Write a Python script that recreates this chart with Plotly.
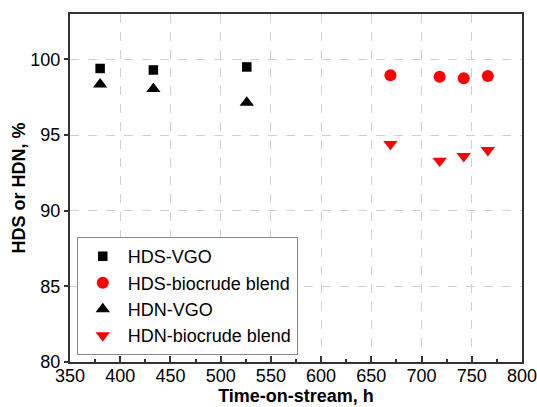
import plotly.graph_objects as go

hds_vgo_x = [380, 433, 526]
hds_vgo_y = [99.4, 99.3, 99.5]
hdn_vgo_x = [380, 433, 526]
hdn_vgo_y = [98.35, 98.05, 97.15]
hds_bio_x = [669, 718, 742, 766]
hds_bio_y = [98.95, 98.85, 98.75, 98.9]
hdn_bio_x = [669, 718, 742, 766]
hdn_bio_y = [94.4, 93.3, 93.6, 94.0]

x_ticks = [350, 400, 450, 500, 550, 600, 650, 700, 750, 800]
y_ticks = [80, 85, 90, 95, 100]

font = "Liberation Sans, Arial, sans-serif"

fig = go.Figure()
fig.add_trace(go.Scatter(x=hds_vgo_x, y=hds_vgo_y, mode="markers", name="HDS-VGO",
                         marker=dict(symbol="square", size=9.5, color="black")))
fig.add_trace(go.Scatter(x=hds_bio_x, y=hds_bio_y, mode="markers", name="HDS-biocrude blend",
                         marker=dict(symbol="circle", size=12, color="#ff0000")))
fig.add_trace(go.Scatter(x=hdn_vgo_x, y=hdn_vgo_y, mode="markers", name="HDN-VGO",
                         marker=dict(symbol="triangle-up", size=12.5, color="black")))
fig.add_trace(go.Scatter(x=hdn_bio_x, y=hdn_bio_y, mode="markers", name="HDN-biocrude blend",
                         marker=dict(symbol="triangle-down", size=12.5, color="#ff0000")))

fig.update_layout(
    width=537, height=407,
    margin=dict(l=70, r=15, t=14, b=45),
    paper_bgcolor="white", plot_bgcolor="white",
    font=dict(family=font, size=18, color="black"),
    showlegend=True,
    legend=dict(x=0.015, y=0.02, xanchor="left", yanchor="bottom",
                bordercolor="#888888", borderwidth=1, bgcolor="white",
                font=dict(size=18), itemsizing="trace", itemwidth=40),
    xaxis=dict(range=[350, 800], tickvals=x_ticks, ticktext=[str(v) for v in x_ticks],
               ticks="inside", ticklen=6, tickwidth=1.5, tickcolor="#333",
               minor=dict(ticks="inside", ticklen=3, tickwidth=1.5, dtick=25, tickcolor="#333", showgrid=False),
               showline=True, linecolor="#333", linewidth=2, mirror=True,
               showgrid=True, gridcolor="#d0d0d0", griddash="dash", gridwidth=1,
               zeroline=False, automargin=False, ticklabeloverflow="allow",
               ticklabelstandoff=-4,
               title=dict(text="<b>Time-on-stream, h</b>", font=dict(size=18), standoff=3),
               tickfont=dict(size=18)),
    yaxis=dict(range=[80, 103], tickvals=y_ticks, ticktext=[str(v) for v in y_ticks],
               ticks="outside", ticklen=4, tickwidth=1.5, tickcolor="#333",
               showline=True, linecolor="#333", linewidth=2, mirror=True,
               showgrid=True, gridcolor="#d0d0d0", griddash="dash", gridwidth=1,
               zeroline=False, automargin=False,
               title=dict(text="<b>HDS or HDN, %</b>", font=dict(size=18), standoff=0),
               tickfont=dict(size=18)),
)

fig.write_html("out.html", config={"displayModeBar": False},
               post_script="document.body.style.margin='0';")
